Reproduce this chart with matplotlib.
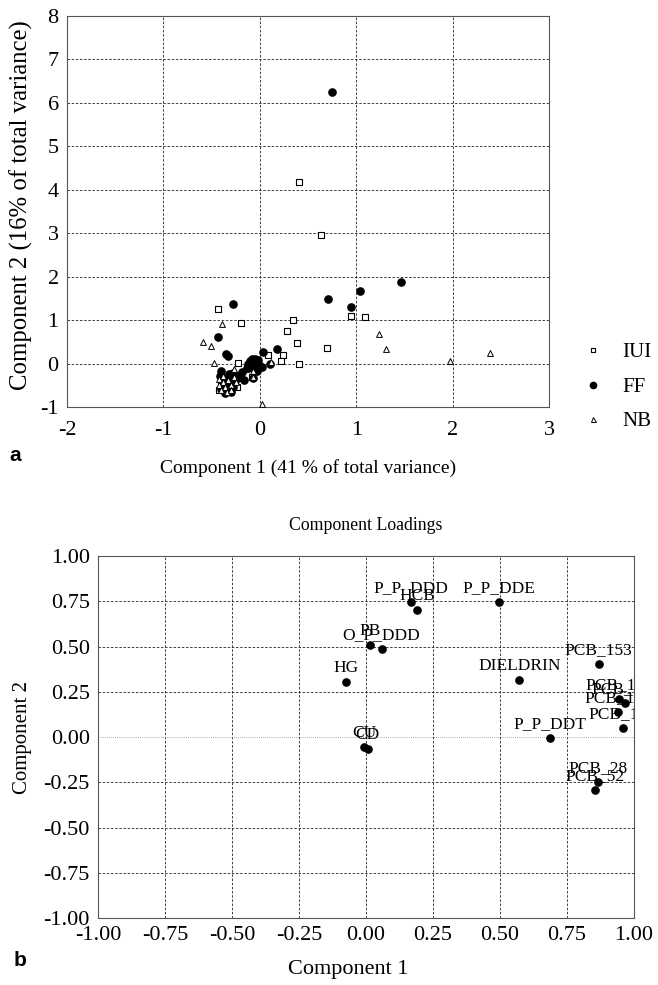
import numpy as np
import matplotlib
matplotlib.use("Agg")
import matplotlib.pyplot as plt
from matplotlib.lines import Line2D

plt.rcParams['font.family'] = ['Liberation Serif', 'DejaVu Serif']
plt.rcParams['axes.unicode_minus'] = False

# ---- panel a : scores ----
iui_x = [0.41, 0.64, 0.95, 1.09, 0.34, 0.28, 0.39, 0.70, 0.41, -0.43, -0.19, 0.09, 0.24, 0.22,
         -0.23, -0.24, -0.08, -0.40, -0.35, -0.42, -0.28]
iui_y = [4.17, 2.97, 1.09, 1.08, 1.00, 0.75, 0.48, 0.36, 0.00, 1.25, 0.94, 0.19, 0.19, 0.06,
         0.02, -0.54, -0.30, -0.40, -0.52, -0.60, -0.45]

ff_x = [0.75, 1.46, 1.04, 0.71, 0.95, -0.28, -0.43, -0.35, -0.33, 0.03, 0.18, 0.11,
        -0.10, -0.05, -0.02, -0.08, -0.12, 0.00, -0.05, -0.02, -0.08, -0.13, -0.03, 0.02,
        -0.40, -0.37, -0.32, -0.28, -0.25, -0.30, -0.38, -0.33, -0.28, -0.36, -0.30,
        -0.20, -0.16, -0.18, -0.12, -0.07, -0.41, -0.39, -0.35, -0.31, -0.26, -0.40,
        -0.34, -0.29, -0.37, -0.32]
ff_y = [6.25, 1.88, 1.68, 1.48, 1.30, 1.37, 0.62, 0.21, 0.18, 0.27, 0.33, 0.00,
        0.05, 0.10, 0.08, -0.05, 0.00, -0.05, -0.12, 0.00, 0.10, -0.10, -0.18, -0.08,
        -0.17, -0.30, -0.32, -0.22, -0.28, -0.42, -0.55, -0.48, -0.55, -0.68, -0.65,
        -0.30, -0.38, -0.20, -0.10, -0.33, -0.28, -0.45, -0.40, -0.36, -0.40, -0.58,
        -0.60, -0.48, -0.50, -0.25]

nb_x = [2.39, 1.97, 1.24, 1.31, -0.39, -0.59, -0.51, -0.48, 0.02, 0.12, -0.27, -0.07, -0.07,
        -0.42, -0.38, -0.33, -0.42, -0.36, -0.30, -0.40, -0.34, -0.30, -0.27, -0.38, -0.25]
nb_y = [0.24, 0.07, 0.67, 0.33, 0.92, 0.50, 0.41, 0.02, -0.93, 0.03, -0.12, -0.16, -0.30,
        -0.35, -0.42, -0.38, -0.50, -0.55, -0.50, -0.62, -0.65, -0.60, -0.30, -0.28, -0.42]

# ---- panel b : loadings ----
load_names = ['P_P_DDD', 'HCB', 'P_P_DDE', 'PB', 'O_P_DDD', 'HG', 'DIELDRIN', 'PCB_153',
              'PCB_118', 'PCB_138', 'PCB_180', 'PCB_101', 'P_P_DDT', 'CU', 'CD',
              'PCB_28', 'PCB_52']
load_x = [0.168, 0.19, 0.496, 0.014, 0.058, -0.076, 0.572, 0.868,
          0.944, 0.968, 0.942, 0.958, 0.688, -0.007, 0.007, 0.866, 0.853]
load_y = [0.746, 0.70, 0.746, 0.507, 0.488, 0.304, 0.313, 0.403,
          0.208, 0.186, 0.137, 0.052, -0.004, -0.057, -0.068, -0.249, -0.295]


def style_axes(ax):
    for s in ax.spines.values():
        s.set_color('#555555')
        s.set_linewidth(0.8)
    ax.tick_params(length=0, labelsize=16)
    ax.grid(True, color='#222222', linestyle=(0, (3, 2)), linewidth=0.6)
    ax.set_axisbelow(True)


fig = plt.figure(figsize=(6.58, 9.85), dpi=100)

ax1 = fig.add_axes([0.1018, 0.5868, 0.7325, 0.397])
style_axes(ax1)
ax1.scatter(iui_x, iui_y, marker='s', s=4.3**2, facecolors='white', edgecolors='black',
            linewidths=0.8, zorder=3)
ax1.scatter(ff_x, ff_y, marker='o', s=5.2**2, color='black', zorder=3)
ax1.scatter(nb_x, nb_y, marker='^', s=4.2**2, facecolors='white', edgecolors='black',
            linewidths=0.7, zorder=3)
ax1.set_xlim(-2, 3)
ax1.set_ylim(-1, 8)
ax1.set_xticks(np.arange(-2, 4, 1))
ax1.set_yticks(np.arange(-1, 9, 1))
ax1.tick_params(axis='x', pad=10)
ax1.tick_params(axis='y', pad=6)
ax1.set_xlabel('Component 1 (41 % of total variance)', fontsize=14, labelpad=14)
ax1.set_ylabel('Component 2 (16% of total variance)', fontsize=17.8)
ax1.yaxis.set_label_coords(-0.07, 0.516)

handles = [Line2D([], [], marker='s', linestyle='none', markersize=3.2, markerfacecolor='white',
                  markeredgecolor='black', markeredgewidth=0.8),
           Line2D([], [], marker='o', linestyle='none', markersize=4.5, color='black'),
           Line2D([], [], marker='^', linestyle='none', markersize=3.6, markerfacecolor='white',
                  markeredgecolor='black', markeredgewidth=0.7)]
fig.legend(handles, ['IUI', 'FF', 'NB'], loc='center left', bbox_to_anchor=(0.86, 0.607),
           frameon=False, fontsize=15, handlelength=0.8, handletextpad=1.0, labelspacing=0.72)

fig.text(0.015, 0.538, 'a', fontsize=15, fontweight='bold', family='Liberation Sans',
         va='center')

ax2 = fig.add_axes([0.1489, 0.068, 0.8146, 0.3675])
style_axes(ax2)
ax2.scatter(load_x, load_y, marker='o', s=5.2**2, color='black', zorder=3)
for name, x, y in zip(load_names, load_x, load_y):
    ax2.annotate(name, (x, y), xytext=(0, 10), textcoords='offset points', ha='center',
                 va='center', fontsize=12.5, clip_on=True, annotation_clip=True)
ax2.set_xlim(-1, 1)
ax2.set_ylim(-1, 1)
ticks = np.arange(-1, 1.01, 0.25)
ax2.set_xticks(ticks)
ax2.set_yticks(ticks)
ax2.set_xticklabels(['%.2f' % t for t in ticks])
ax2.set_yticklabels(['%.2f' % t for t in ticks])
ax2.tick_params(axis='x', pad=6)
ax2.tick_params(axis='y', pad=6)
for line in ax2.get_ygridlines():
    if abs(line.get_ydata()[0]) < 1e-9:
        line.set_linestyle((0, (1, 1.5)))
        line.set_color('#888888')
ax2.set_title('Component Loadings', fontsize=12.8, pad=19)
ax2.set_xlabel('Component 1', fontsize=16)
ax2.xaxis.set_label_coords(0.466, -0.115)
ax2.set_ylabel('Component 2', fontsize=15, labelpad=8)

fig.text(0.02, 0.025, 'b', fontsize=15, fontweight='bold', family='Liberation Sans',
         va='center')

fig.savefig('out.png', dpi=100)
